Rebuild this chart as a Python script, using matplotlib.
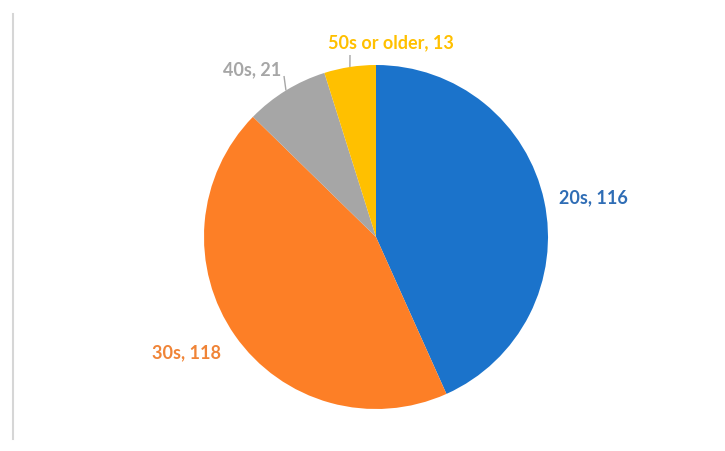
import numpy as np
import matplotlib
matplotlib.use("Agg")
import matplotlib.pyplot as plt

# Age groups and counts
categories = ["20s", "30s", "40s", "50s or older"]
counts = [116, 118, 21, 13]

wedge_colors = ["#1B73CB", "#FD7F26", "#A6A6A6", "#FFC000"]
label_colors = ["#2F6DB5", "#F08437", "#A6A6A6", "#FFC000"]

W, H = 725, 452
fig = plt.figure(figsize=(W / 100, H / 100), dpi=100)
fig.patch.set_facecolor("white")
ax = fig.add_axes([0, 0, 1, 1])

cx, cy, r = 376, H - 238, 172
wedges, _ = ax.pie(counts, colors=wedge_colors, startangle=90, counterclock=False,
                   center=(cx, cy), radius=r, frame=True,
                   wedgeprops=dict(linewidth=0, antialiased=True))
ax.set_xlim(0, W)
ax.set_ylim(0, H)
ax.set_aspect("equal")
ax.axis("off")

# label anchor points (pixels) and the upper end of each leader line
label_pos = [(593, H - 198), (186, H - 353), (252, H - 70), (391, H - 43)]
leader = [None, None, (284, H - 77), (350, H - 56)]

font = dict(family=["Lato", "DejaVu Sans"], fontweight="bold", fontsize=13)
for w, cat, n, pos, col, ld in zip(wedges, categories, counts, label_pos, label_colors, leader):
    ax.text(pos[0], pos[1], f"{cat}, {n}", color=col, ha="center", va="center", **font)
    if ld is not None:
        mid = np.deg2rad((w.theta1 + w.theta2) / 2)
        ex, ey = cx + r * np.cos(mid), cy + r * np.sin(mid)
        ax.plot([ld[0], ex], [ld[1], ey], color="#A6A6A6", lw=1, solid_capstyle="butt")

# thin border line on the left
fig.add_artist(plt.Line2D([13 / W, 13 / W], [1 - 15 / H, 1 - 440 / H],
                          transform=fig.transFigure, color="#D6D6D6", lw=1.5))

fig.savefig("out.png", dpi=100, facecolor="white")
